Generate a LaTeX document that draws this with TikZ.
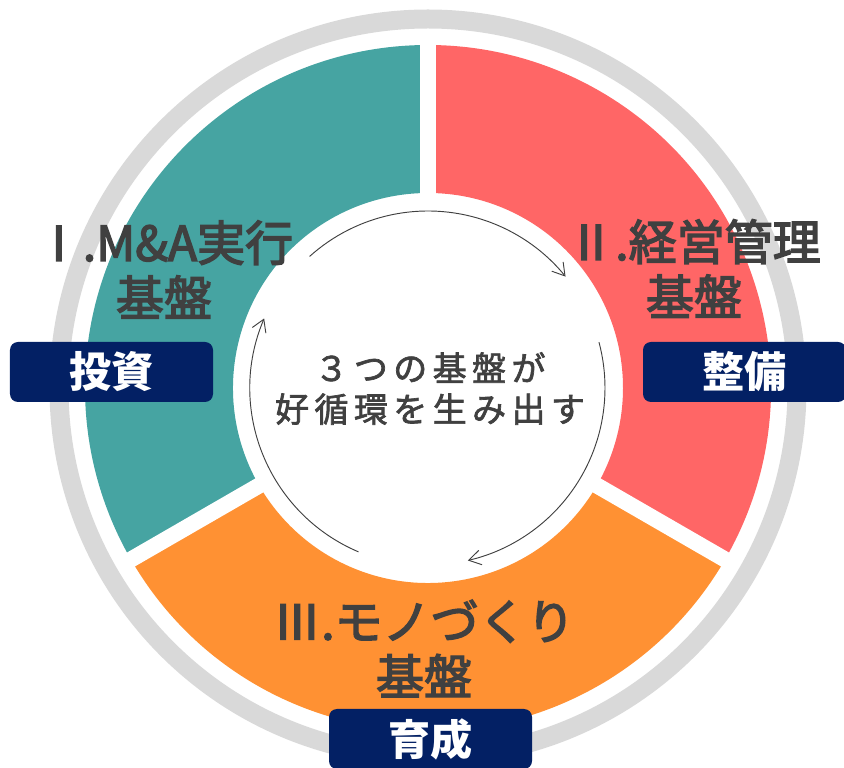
\documentclass[tikz,border=0pt]{standalone}
\usepackage{fontspec}
\setmainfont{Noto Sans CJK JP}
\newfontfamily\labelfont{Noto Sans CJK JP}[FakeBold=3]
\newfontfamily\centrefont{Noto Sans CJK JP}[FakeBold=2, LetterSpace=16]
\usepackage{xcolor}
\usepackage{tikz}
\usetikzlibrary{arrows.meta}

\definecolor{ringgray}{HTML}{D9D9D9}
\definecolor{segteal}{HTML}{46A4A2}
\definecolor{segred}{HTML}{FF6666}
\definecolor{segorange}{HTML}{FF9133}
\definecolor{tagnavy}{HTML}{032064}
\definecolor{labelgray}{HTML}{404040}

\begin{document}
\begin{tikzpicture}[x=0.3mm, y=0.3mm,
  seglabel/.style={text=labelgray, font=\labelfont\fontsize{41}{47}\selectfont, align=center, inner sep=0pt},
  tagbox/.style={fill=tagnavy, rounded corners=2.4mm, minimum width=60.9mm, minimum height=18mm, text=white, font=\fontsize{36}{40}\selectfont\bfseries, inner sep=0pt},
  gapline/.style={white, line width=4.8mm},
  cyclearrow/.style={draw=labelgray, line width=0.8pt, -{Straight Barb[length=3.6mm, width=4.4mm]}}]

\useasboundingbox (0,0) rectangle (844,767);
\coordinate (c) at (428,379);

\draw[ringgray, line width=5.7mm] (c) circle[radius=369];

\fill[segteal] ([shift={(90:343)}]c) arc[start angle=90, end angle=210, radius=343] -- ([shift={(210:195)}]c) arc[start angle=210, end angle=90, radius=195] -- cycle;
\fill[segorange] ([shift={(210:343)}]c) arc[start angle=210, end angle=330, radius=343] -- ([shift={(330:195)}]c) arc[start angle=330, end angle=210, radius=195] -- cycle;
\fill[segred] ([shift={(-30:343)}]c) arc[start angle=-30, end angle=90, radius=343] -- ([shift={(90:195)}]c) arc[start angle=90, end angle=-30, radius=195] -- cycle;

\draw[gapline] (c) -- ++(90:355);
\draw[gapline] (c) -- ++(210:355);
\draw[gapline] (c) -- ++(330:355);

\draw[cyclearrow] ([shift={(132:177)}]c) arc[start angle=132, end angle=39, radius=177];
\draw[cyclearrow] ([shift={(15:177)}]c) arc[start angle=15, end angle=-77, radius=177];
\draw[cyclearrow] ([shift={(-113:178)}]c) arc[start angle=-113, end angle=-203, radius=178];

\node[seglabel] (maLabel) at (164,497.5) {Ⅰ.M\&A実行\\基盤};
\node[seglabel] (mgmtLabel) at (694,498.5) {Ⅱ.経営管理\\基盤};
\node[seglabel] (mfgLabel) at (424,118.5) {Ⅲ.モノづくり\\基盤};
\node[text=labelgray, font=\centrefont\fontsize{29}{35}\selectfont, align=center, inner sep=0pt] (cycleText) at (430,378.5) {３つの基盤が\\好循環を生み出す};

\node[tagbox] (investTag) at (111.5,395) {投資};
\node[tagbox] (maintainTag) at (744.5,395) {整備};
\node[tagbox] (growTag) at (430.5,28) {育成};

\end{tikzpicture}
\end{document}
